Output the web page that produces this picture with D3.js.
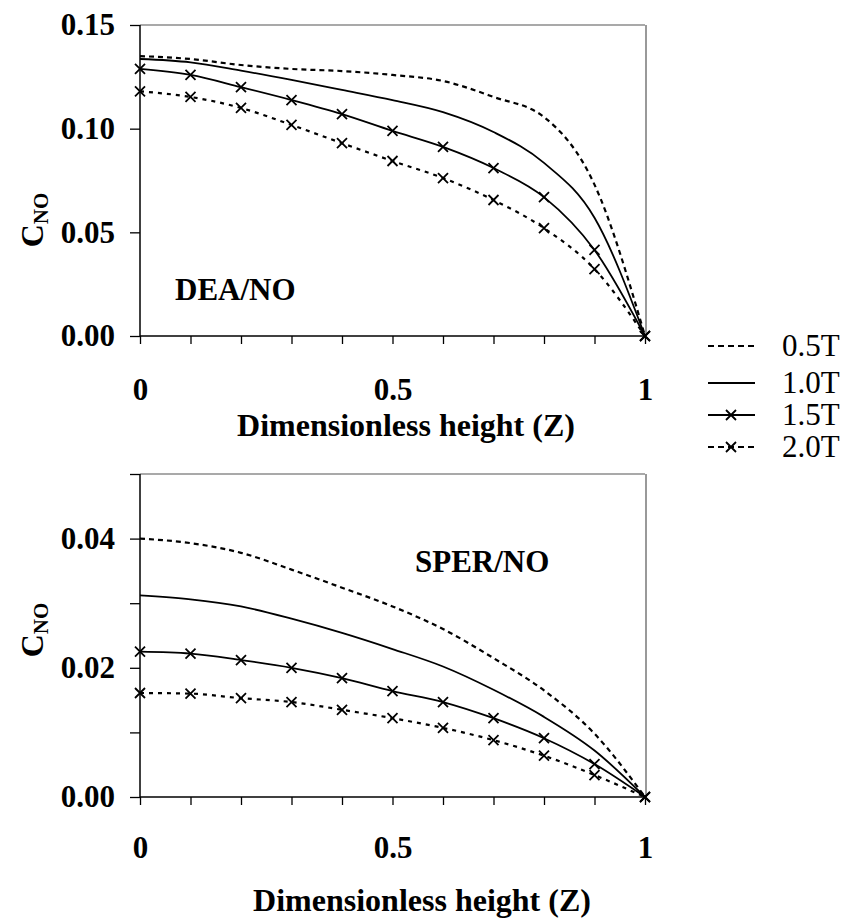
<!DOCTYPE html>
<html><head><meta charset="utf-8">
<script src="https://cdn.jsdelivr.net/npm/d3@7"></script>
<style>body{margin:0;background:#fff}svg{display:block}</style>
</head><body>
<svg id="c" width="845" height="918"></svg>
<script>
const Z = [0, 0.1, 0.2, 0.3, 0.4, 0.5, 0.6, 0.7, 0.8, 0.9, 1.0];
const seriesNames = ["0.5T", "1.0T", "1.5T", "2.0T"];
// DEA/NO panel
const dea05 = [0.135, 0.1336, 0.1307, 0.1288, 0.1278, 0.1259, 0.123, 0.1153, 0.1056, 0.073, 0];
const dea10 = [0.1336, 0.132, 0.128, 0.1235, 0.1187, 0.1138, 0.108, 0.0984, 0.0835, 0.057, 0];
const dea15 = [0.1288, 0.1259, 0.120, 0.1138, 0.107, 0.0989, 0.0912, 0.081, 0.067, 0.0415, 0];
const dea20 = [0.118, 0.1153, 0.110, 0.1018, 0.093, 0.0844, 0.0762, 0.0656, 0.052, 0.0323, 0];
// SPER/NO panel
const sper05 = [0.040, 0.0393, 0.0378, 0.0352, 0.0324, 0.0295, 0.026, 0.0215, 0.0165, 0.0098, 0];
const sper10 = [0.0312, 0.0306, 0.0295, 0.0276, 0.0254, 0.0229, 0.0202, 0.0166, 0.0124, 0.0072, 0];
const sper15 = [0.0225, 0.0222, 0.0212, 0.020, 0.0184, 0.0164, 0.0147, 0.0122, 0.0091, 0.0051, 0];
const sper20 = [0.0161, 0.016, 0.0153, 0.0147, 0.0135, 0.0122, 0.0107, 0.0088, 0.0064, 0.0034, 0];
const xTickVals = [0, 0.1, 0.2, 0.3, 0.4, 0.5, 0.6, 0.7, 0.8, 0.9, 1.0];
const xTickLabels = [0, 0.5, 1];
const deaYTicks = [0, 0.05, 0.10, 0.15];
const sperYTicks = [0, 0.01, 0.02, 0.03, 0.04, 0.05];
const sperYLabels = [0, 0.02, 0.04];

const styles = {
  "0.5T": {dash: "5,4", marker: false, width: 2.2},
  "1.0T": {dash: null, marker: false, width: 1.8},
  "1.5T": {dash: null, marker: true, width: 1.8},
  "2.0T": {dash: "4,5", marker: true, width: 2.2}
};

const svg = d3.select("#c");
const FONT = "'Liberation Serif','Times New Roman',serif";

function panel(cfg) {
  const x = d3.scaleLinear().domain([0, 1]).range([140, 645]);
  const y = d3.scaleLinear().domain(cfg.domain).range([cfg.bottom, cfg.top]);
  const g = svg.append("g");
  // frame top & right
  g.append("line").attr("x1", x(0)).attr("x2", x(1)).attr("y1", y(cfg.domain[1])).attr("y2", y(cfg.domain[1]))
    .attr("stroke", "#555").attr("stroke-width", 1.2);
  g.append("line").attr("x1", x(1)+1).attr("x2", x(1)+1).attr("y1", y(cfg.domain[1])).attr("y2", y(0))
    .attr("stroke", "#555").attr("stroke-width", 1.2);
  // x axis ticks
  const xa = g.append("g").attr("transform", `translate(0,${y(0)})`)
    .call(d3.axisBottom(x).tickValues(xTickVals).tickSize(8).tickFormat(""));
  xa.select(".domain").attr("stroke", "#000").attr("stroke-width", 1.5).attr("d", `M${x(0)},0H${x(1)}`);
  xa.selectAll(".tick line").attr("stroke", "#000").attr("stroke-width", 1.3);
  // x labels
  const xl = g.append("g").attr("transform", `translate(0,${y(0)})`)
    .call(d3.axisBottom(x).tickValues(xTickLabels).tickSize(0).tickPadding(cfg.xLabelPad).tickFormat(d => d3.format("")(d)));
  xl.select(".domain").remove();
  xl.selectAll("text").attr("font-family", FONT).attr("font-weight", "bold").attr("font-size", 31).attr("fill", "#000");
  // y axis ticks
  const ya = g.append("g").attr("transform", `translate(${x(0)},0)`)
    .call(d3.axisLeft(y).tickValues(cfg.yTicks).tickSize(10).tickFormat(""));
  ya.select(".domain").attr("stroke", "#000").attr("stroke-width", 1.5).attr("d", `M0,${y(0)}V${y(cfg.domain[1])}`);
  ya.selectAll(".tick line").attr("stroke", "#000").attr("stroke-width", 1.3);
  const yl = g.append("g").attr("transform", `translate(${x(0)},0)`)
    .call(d3.axisLeft(y).tickValues(cfg.yLabels).tickSize(0).tickPadding(25).tickFormat(d3.format(".2f")));
  yl.select(".domain").remove();
  yl.selectAll("text").attr("font-family", FONT).attr("font-weight", "bold").attr("font-size", 31).attr("fill", "#000");
  // series
  const line = d3.line().x(d => x(d[0])).y(d => y(d[1])).curve(d3.curveMonotoneX);
  cfg.series.forEach((vals, i) => {
    const st = styles[seriesNames[i]];
    const pts = Z.map((z, k) => [z, vals[k]]);
    g.append("path").datum(pts).attr("d", line).attr("fill", "none").attr("stroke", "#000")
      .attr("stroke-width", st.width).attr("stroke-dasharray", st.dash);
    if (st.marker) {
      g.selectAll(null).data(pts).enter().append("path")
        .attr("d", d => { const cx = x(d[0]), cy = y(d[1]), s = 5; return `M${cx-s},${cy-s}L${cx+s},${cy+s}M${cx-s},${cy+s}L${cx+s},${cy-s}`; })
        .attr("stroke", "#000").attr("stroke-width", 1.8);
    }
  });
  // panel label
  g.append("text").attr("x", cfg.labelX).attr("y", cfg.labelY).text(cfg.label)
    .attr("font-family", FONT).attr("font-weight", "bold").attr("font-size", 31);
  // x title
  g.append("text").attr("x", cfg.titleX).attr("y", cfg.titleY).attr("text-anchor", "middle")
    .text("Dimensionless height (Z)").attr("font-family", FONT).attr("font-weight", "bold").attr("font-size", cfg.titleSize);
  // y title
  const yt = g.append("text").attr("transform", `translate(43,${cfg.yTitleY}) rotate(-90)`).attr("text-anchor", "middle")
    .attr("font-family", FONT).attr("font-weight", "bold");
  yt.append("tspan").attr("font-size", 32).text("C");
  yt.append("tspan").attr("font-size", 21).attr("dy", 5).text("NO");
}

panel({domain: [0, 0.15], top: 25, bottom: 336, yTicks: deaYTicks, yLabels: deaYTicks,
  series: [dea05, dea10, dea15, dea20], label: "DEA/NO", labelX: 175, labelY: 300,
  xLabelPad: 42, titleX: 406, titleY: 436, titleSize: 32, yTitleY: 220});
panel({domain: [0, 0.05], top: 474, bottom: 797, yTicks: sperYTicks, yLabels: sperYLabels,
  series: [sper05, sper10, sper15, sper20], label: "SPER/NO", labelX: 415, labelY: 572,
  xLabelPad: 39, titleX: 422, titleY: 911, titleSize: 32, yTitleY: 630});

// legend
const legY = [346, 383, 415, 447];
const lg = svg.append("g");
seriesNames.forEach((n, i) => {
  const st = styles[n];
  lg.append("line").attr("x1", 708).attr("x2", 755).attr("y1", legY[i]).attr("y2", legY[i])
    .attr("stroke", "#000").attr("stroke-width", st.width).attr("stroke-dasharray", st.dash ? "6,4" : null);
  if (st.marker) {
    const cx = 731, cy = legY[i], s = 5;
    lg.append("path").attr("d", `M${cx-s},${cy-s}L${cx+s},${cy+s}M${cx-s},${cy+s}L${cx+s},${cy-s}`)
      .attr("stroke", "#000").attr("stroke-width", 1.8);
  }
  lg.append("text").attr("x", 782).attr("y", legY[i] + 10).text(n)
    .attr("font-family", FONT).attr("font-size", 31);
});
</script>
</body></html>
